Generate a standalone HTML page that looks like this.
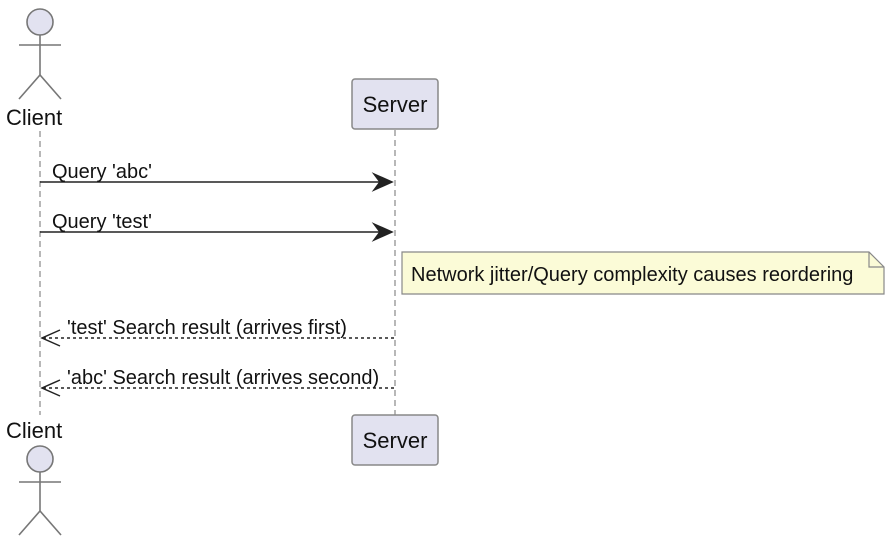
<!DOCTYPE html>
<html><head><style>body{margin:0;background:#fff}svg{display:block}text{font-family:"Liberation Sans",sans-serif;fill:#111}</style></head><body>
<svg width="892" height="544" viewBox="0 0 892 544">
<g stroke="#888" stroke-width="1.2" stroke-dasharray="6,4">
<line x1="40" y1="131" x2="40" y2="415"/>
<line x1="395" y1="130" x2="395" y2="415"/>
</g>
<g stroke="#777" stroke-width="1.6" fill="none">
<circle cx="40" cy="22" r="13" fill="#e2e2f0"/>
<line x1="40" y1="35" x2="40" y2="75"/><line x1="19" y1="45" x2="61" y2="45"/>
<polyline points="19,99 40,75 61,99"/>
<circle cx="40" cy="459" r="13" fill="#e2e2f0"/>
<line x1="40" y1="472" x2="40" y2="511"/><line x1="19" y1="482" x2="61" y2="482"/>
<polyline points="19,535 40,511 61,535"/>
</g>
<text x="6" y="125" font-size="22">Client</text>
<text x="6" y="438" font-size="22">Client</text>
<rect x="352" y="79" width="86" height="50" rx="3" fill="#e2e2f0" stroke="#888" stroke-width="1.5"/>
<text x="395" y="112" font-size="22" text-anchor="middle">Server</text>
<rect x="352" y="415" width="86" height="50" rx="3" fill="#e2e2f0" stroke="#888" stroke-width="1.5"/>
<text x="395" y="448" font-size="22" text-anchor="middle">Server</text>
<g stroke="#222" stroke-width="1.5">
<line x1="40" y1="182" x2="390" y2="182"/><polygon points="374,174 392,182 374,190 380,182" fill="#222"/>
<line x1="40" y1="232" x2="390" y2="232"/><polygon points="374,224 392,232 374,240 380,232" fill="#222"/>
<line x1="43" y1="338" x2="395" y2="338" stroke-dasharray="3,3"/><polyline points="60,330 42,338 60,346" fill="none"/>
<line x1="43" y1="388" x2="395" y2="388" stroke-dasharray="3,3"/><polyline points="60,380 42,388 60,396" fill="none"/>
</g>
<text x="52" y="178" font-size="20">Query 'abc'</text>
<text x="52" y="228" font-size="20">Query 'test'</text>
<text x="67" y="334" font-size="20">'test' Search result (arrives first)</text>
<text x="67" y="384" font-size="20">'abc' Search result (arrives second)</text>
<path d="M402,252 H869 L884,267 V294 H402 Z" fill="#fbfbd7" stroke="#888" stroke-width="1.2"/>
<path d="M869,252 V267 H884" fill="none" stroke="#888" stroke-width="1.2"/>
<text x="411" y="281" font-size="20">Network jitter/Query complexity causes reordering</text>
</svg>
</body></html>
